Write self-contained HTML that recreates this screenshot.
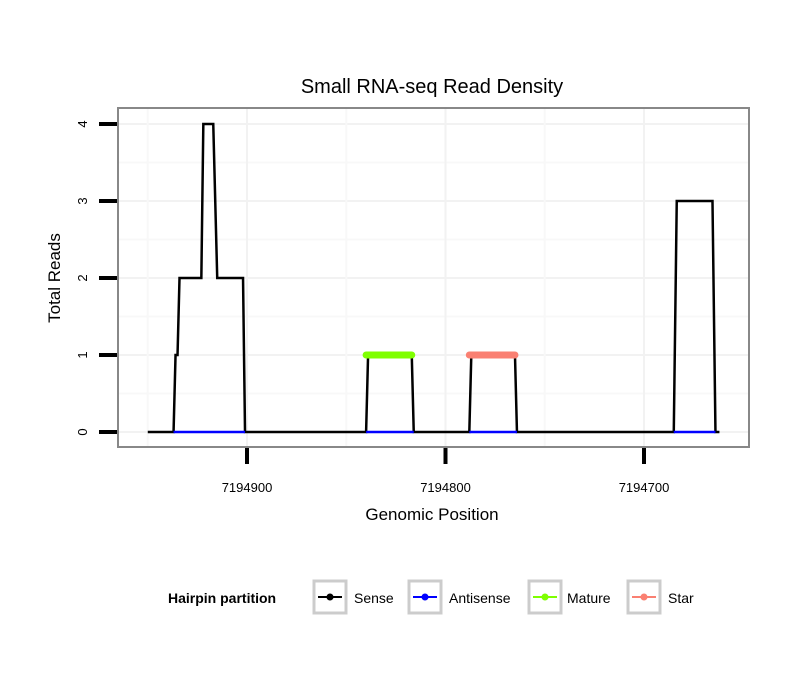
<!DOCTYPE html>
<html><head><meta charset="utf-8"><style>
body{margin:0;background:#fff}
svg text{font-family:"Liberation Sans",sans-serif}
</style></head><body>
<svg id="c" width="810" height="690" xmlns="http://www.w3.org/2000/svg">
<text x="432" y="93" font-size="20" text-anchor="middle">Small RNA-seq Read Density</text>
<text x="432" y="520" font-size="17" text-anchor="middle">Genomic Position</text>
<text transform="translate(60,278) rotate(-90)" font-size="17" text-anchor="middle">Total Reads</text>
<g id="grid"></g>
<g id="series"></g>
<rect x="118" y="108" width="631" height="339" fill="none" stroke="#888" stroke-width="2"/>
<g id="axes"></g>
<g>
<text x="168" y="603" font-size="14" font-weight="bold">Hairpin partition</text>
<g><rect x="314" y="581" width="32" height="32" fill="none" stroke="#ccc" stroke-width="3"/><line x1="318" y1="597" x2="342" y2="597" stroke="#000" stroke-width="2"/><circle cx="330" cy="597" r="3.5" fill="#000"/><text x="354" y="603" font-size="14">Sense</text></g>
<g><rect x="409" y="581" width="32" height="32" fill="none" stroke="#ccc" stroke-width="3"/><line x1="413" y1="597" x2="437" y2="597" stroke="#00f" stroke-width="2"/><circle cx="425" cy="597" r="3.5" fill="#00f"/><text x="449" y="603" font-size="14">Antisense</text></g>
<g><rect x="529" y="581" width="32" height="32" fill="none" stroke="#ccc" stroke-width="3"/><line x1="533" y1="597" x2="557" y2="597" stroke="#7fff00" stroke-width="2"/><circle cx="545" cy="597" r="3.5" fill="#7fff00"/><text x="567" y="603" font-size="14">Mature</text></g>
<g><rect x="628" y="581" width="32" height="32" fill="none" stroke="#ccc" stroke-width="3"/><line x1="632" y1="597" x2="656" y2="597" stroke="#fa8072" stroke-width="2"/><circle cx="644" cy="597" r="3.5" fill="#fa8072"/><text x="668" y="603" font-size="14">Star</text></g>
</g>
</svg>
<script>
const xTicks=[7194900,7194800,7194700];
const xTickLabels=["7194900","7194800","7194700"];
const yTicks=[0,1,2,3,4];
const yTickLabels=["0","1","2","3","4"];
const senseX=[7194950,7194937,7194936,7194935,7194934,7194923,7194922,7194917,7194915,7194902,7194901,7194840,7194839,7194817,7194816,7194788,7194787,7194765,7194764,7194685,7194683.5,7194665.5,7194664,7194662];
const senseY=[0,0,1,1,2,2,4,4,2,2,0,0,1,1,0,0,1,1,0,0,3,3,0,0];
const antisenseSegments=[[7194937,7194901],[7194840,7194816],[7194788,7194764],[7194685,7194664]];
const antisenseY=[0,0,0,0];
const matureX=[7194840,7194817];
const matureY=[1,1];
const starX=[7194788,7194765];
const starY=[1,1];

const X=p=>247+(7194900-p)*1.985;
const Y=v=>432-v*77;
const NS="http://www.w3.org/2000/svg";
function mk(tag,parent,attrs){const e=document.createElementNS(NS,tag);for(const k in attrs)e.setAttribute(k,attrs[k]);parent.appendChild(e);return e;}
const grid=document.getElementById('grid'),axes=document.getElementById('axes'),ser=document.getElementById('series');
// grid
for(let i=0;i<yTicks.length;i++){
  let l=mk('line',grid,{x1:118,x2:749,y1:Y(yTicks[i]),y2:Y(yTicks[i]),stroke:'#f2f2f2','stroke-width':2});
  
  
  if(i<yTicks.length-1){let m=mk('line',grid,{x1:118,x2:749,y1:Y(yTicks[i]+0.5),y2:Y(yTicks[i]+0.5),stroke:'#f8f8f8','stroke-width':2});
  
  }
}
for(let i=0;i<xTicks.length;i++){
  let l=mk('line',grid,{x1:X(xTicks[i]),x2:X(xTicks[i]),y1:108,y2:447,stroke:'#f2f2f2','stroke-width':2});
  
  
}
[xTicks[0]+50,xTicks[0]-50,xTicks[1]-50].forEach(p=>{let m=mk('line',grid,{x1:X(p),x2:X(p),y1:108,y2:447,stroke:'#f8f8f8','stroke-width':2});
  
  });
// axes
for(let i=0;i<yTicks.length;i++){
  let t=mk('line',axes,{x1:99,x2:117,y1:Y(yTicks[i]),y2:Y(yTicks[i]),stroke:'#000','stroke-width':4});
  
  
  let tx=mk('text',axes,{transform:`translate(87,${Y(yTicks[i])}) rotate(-90)`,'font-size':13,'text-anchor':'middle'});
  tx.textContent=yTickLabels[i];
  
  
}
for(let i=0;i<xTicks.length;i++){
  let t=mk('line',axes,{x1:X(xTicks[i]),x2:X(xTicks[i]),y1:448,y2:464,stroke:'#000','stroke-width':4});
  
  
  let tx=mk('text',axes,{x:X(xTicks[i]),y:492,'font-size':13,'text-anchor':'middle'});
  tx.textContent=xTickLabels[i];
  
  
}
// sense
let d=senseX.map((p,i)=>(i?'L':'M')+X(p)+','+Y(senseY[i])).join('');
let s=mk('path',ser,{d:d,fill:'none',stroke:'#000','stroke-width':2.5,'stroke-linejoin':'miter'});


// antisense
antisenseSegments.forEach((seg,i)=>{let a=mk('line',ser,{x1:X(seg[0]),x2:X(seg[1]),y1:Y(antisenseY[i]),y2:Y(antisenseY[i]),stroke:'#00f','stroke-width':2.5});
  
  });
// mature
let mt=mk('line',ser,{x1:X(matureX[0]),x2:X(matureX[1]),y1:Y(matureY[0]),y2:Y(matureY[1]),stroke:'#7fff00','stroke-width':7,'stroke-linecap':'round'});


let st=mk('line',ser,{x1:X(starX[0]),x2:X(starX[1]),y1:Y(starY[0]),y2:Y(starY[1]),stroke:'#fa8072','stroke-width':7,'stroke-linecap':'round'});


</script>
</body></html>
